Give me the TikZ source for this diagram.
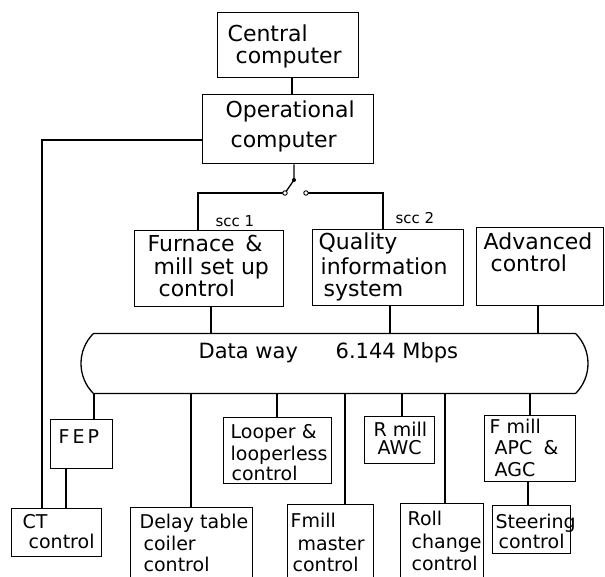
\documentclass[tikz,border=0pt]{standalone}
\usepackage{fontspec}
\setmainfont{DejaVu Sans}
\usetikzlibrary{shapes.misc}
\begin{document}
\begin{tikzpicture}[x=1pt,y=-1pt,line width=1.3pt,
  box/.style={draw,rectangle,inner sep=0pt,anchor=north west},
  big/.style={anchor=base west,inner sep=0pt,font=\fontsize{22}{24}\selectfont},
  small/.style={anchor=base west,inner sep=0pt,font=\fontsize{19}{21}\selectfont},
  tiny/.style={anchor=base west,inner sep=0pt,font=\fontsize{15}{17}\selectfont},
  contact/.style={draw,circle,inner sep=0pt,minimum size=4.5pt,line width=0.9pt,fill=white},
  swdotstyle/.style={fill,circle,inner sep=0pt,minimum size=4pt}]
\useasboundingbox (0,0) rectangle (605,577);
\clip (0,0) rectangle (605,577);
% boxes
\node[box,minimum width=141pt,minimum height=65pt] (central) at (217,12) {};
\node[box,minimum width=171pt,minimum height=69pt] (op) at (202,94) {};
\node[box,minimum width=149pt,minimum height=76pt] (furn) at (134,230) {};
\node[box,minimum width=151pt,minimum height=76pt] (qual) at (312,229) {};
\node[box,minimum width=127pt,minimum height=78pt] (adv) at (476,227) {};
\node[draw,rounded rectangle,rounded rectangle arc length=90,minimum width=507pt,minimum height=60pt,inner sep=0pt] (dw) at (334.5,363.5) {};
\node[box,minimum width=62pt,minimum height=49pt] (fep) at (50,419) {};
\node[box,minimum width=90pt,minimum height=48pt] (ct) at (11,508) {};
\node[box,minimum width=122pt,minimum height=90pt] (delay) at (130,507) {};
\node[box,minimum width=108pt,minimum height=66pt] (looper) at (223,417) {};
\node[box,minimum width=86pt,minimum height=90pt] (fmaster) at (287,504) {};
\node[box,minimum width=70pt,minimum height=47pt] (rmill) at (364,416) {};
\node[box,minimum width=83pt,minimum height=90pt] (roll) at (400,503) {};
\node[box,minimum width=91pt,minimum height=66pt] (fapc) at (484,415) {};
\node[box,minimum width=78pt,minimum height=48pt] (steer) at (492,505) {};
% helper coordinates
\coordinate (x292) at (292,0);
\coordinate (x294) at (294,0);
\coordinate (x42) at (42,0);
\coordinate (y140) at (0,140);
\coordinate (x198) at (198,0);
\coordinate (x383) at (383,0);
\coordinate (x211) at (211,0);
\coordinate (x390) at (390,0);
\coordinate (x538) at (538,0);
\coordinate (x94) at (94,0);
\coordinate (x66) at (66,0);
\coordinate (x191) at (191,0);
\coordinate (x277) at (277,0);
\coordinate (x345) at (345,0);
\coordinate (x402) at (402,0);
\coordinate (x445) at (445,0);
\coordinate (x530) at (530,0);
\coordinate (x528) at (528,0);
% switch
\node[swdotstyle] (swdot) at (294,180) {};
\coordinate (swl) at (285,193);
\coordinate (swr) at (306,193);
% connectors
\draw (central.south -| x292) -- (op.north -| x292);
\draw (op.west |- y140) -| (ct.north -| x42);
\draw (op.south -| x294) -- (swdot.center) -- (swl);
\draw (swl) -| (furn.north -| x198);
\draw (swr) -| (qual.north -| x383);
\node[contact] (swlc) at (swl) {};
\node[contact] (swrc) at (swr) {};
\draw (furn.south -| x211) -- (dw.north -| x211);
\draw (qual.south -| x390) -- (dw.north -| x390);
\draw (adv.south -| x538) -- (dw.north -| x538);
\draw (dw.south -| x94) -- (fep.north -| x94);
\draw (fep.south -| x66) -- (ct.north -| x66);
\draw (dw.south -| x191) -- (delay.north -| x191);
\draw (dw.south -| x277) -- (looper.north -| x277);
\draw (dw.south -| x345) -- (fmaster.north -| x345);
\draw (dw.south -| x402) -- (rmill.north -| x402);
\draw (dw.south -| x445) -- (roll.north -| x445);
\draw (dw.south -| x530) -- (fapc.north -| x530);
\draw (fapc.south -| x528) -- (steer.north -| x528);
% labels
\node[big] (t1) at (227,42) {Central};
\node[big] (t2) at (235,64) {computer};
\node[big] (t3) at (225,118) {Operational};
\node[big] (t4) at (230,148) {computer};
\node[tiny] (s1) at (215,227) {scc 1};
\node[tiny] (s2) at (395,224) {scc 2};
\node[big] (t5) at (147,252) {Furnace \,\&};
\node[big] (t6) at (153,275) {mill set up};
\node[big] (t7) at (158,297) {control};
\node[big] (t8) at (318,250) {Quality};
\node[big] (t9) at (320,275) {information};
\node[big] (t10) at (323,297) {system};
\node[big] (t11) at (483,250) {Advanced};
\node[big] (t12) at (490,272) {control};
\node[big,font=\fontsize{21}{23}\selectfont] (t13) at (198,358) {Data way};
\node[big,font=\fontsize{21}{23}\selectfont] (t14) at (335,358) {6.144 Mbps};
\node[small] (t15) at (58,443) {F\kern3pt E\kern3pt P};
\node[small] (t16) at (230,438) {Looper \&};
\node[small] (t17) at (230,460) {looperless};
\node[small] (t18) at (231,480) {control};
\node[small] (t19) at (373,436) {R mill};
\node[small] (t20) at (377,454) {AWC};
\node[small] (t21) at (489,433) {F mill};
\node[small] (t22) at (494,454) {APC \;\&};
\node[small] (t23) at (494,476) {AGC};
\node[small] (t24) at (22,528) {CT};
\node[small] (t25) at (28,548) {control};
\node[small] (t26) at (139,528) {Delay table};
\node[small] (t27) at (143,550) {coiler};
\node[small] (t28) at (143,571) {control};
\node[small] (t29) at (290,527) {Fmill};
\node[small] (t30) at (297,550) {master};
\node[small] (t31) at (292,571) {control};
\node[small] (t32) at (407,525) {Roll};
\node[small] (t33) at (411,548) {change};
\node[small] (t34) at (411,570) {control};
\node[small] (t35) at (495,528) {Steering};
\node[small] (t36) at (498,548) {control};
\end{tikzpicture}
\end{document}
